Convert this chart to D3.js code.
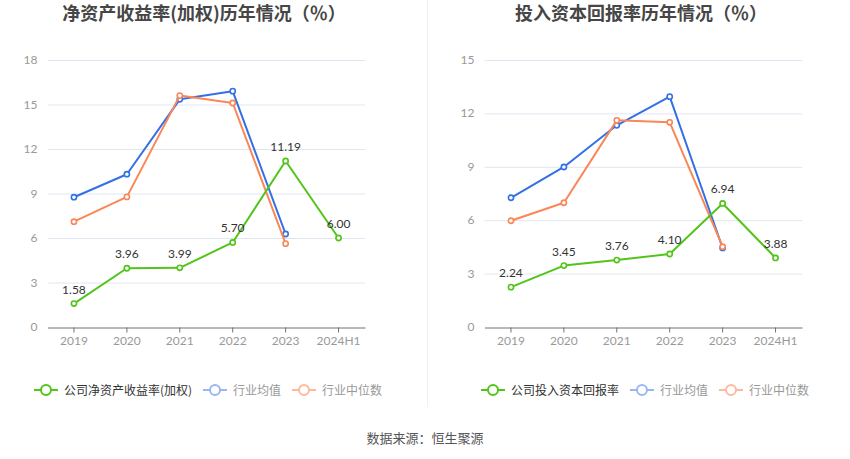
<!DOCTYPE html>
<html>
<head>
<meta charset="utf-8">
<script src="https://cdn.jsdelivr.net/npm/d3@7"></script>
<style>
  body { margin: 0; background: #fff; font-family: "Noto Sans CJK SC", "Noto Sans", sans-serif; }
  svg { display: block; }
</style>
</head>
<body>
<div id="chart"></div>
<script>
// categories and values
const years = ["2019", "2020", "2021", "2022", "2023", "2024H1"];

const roeCompany = [1.58, 3.96, 3.99, 5.70, 11.19, 6.00];
const roeIndustryAvg = [8.75, 10.3, 15.35, 15.9, 6.27, null];
const roeIndustryMedian = [7.1, 8.77, 15.6, 15.1, 5.62, null];
const roeTicks = [0, 3, 6, 9, 12, 15, 18];

const roicCompany = [2.24, 3.45, 3.76, 4.10, 6.94, 3.88];
const roicIndustryAvg = [7.26, 8.99, 11.33, 12.94, 4.44, null];
const roicIndustryMedian = [5.97, 6.98, 11.61, 11.5, 4.51, null];
const roicTicks = [0, 3, 6, 9, 12, 15];

const GREEN = "#52c41a", BLUE = "#3370e6", ORANGE = "#fb8656";
const BLUE_L = "#9ab7f2", ORANGE_L = "#fcbba0";

const W = 850, H = 459;
const svg = d3.select("#chart").append("svg")
  .attr("width", W).attr("height", H)
  .attr("viewBox", `0 0 ${W} ${H}`);

// divider between the two panels
svg.append("line")
  .attr("x1", 427.5).attr("x2", 427.5).attr("y1", 0).attr("y2", 407)
  .attr("stroke", "#f0f0f0").attr("stroke-width", 1);

function drawPanel(opts) {
  const { left, right, title, titleX, ticks, company, avg, median, legendItems } = opts;
  const top = 60, bottom = 327;

  const g = svg.append("g");

  g.append("text")
    .attr("x", titleX).attr("y", 20)
    .attr("text-anchor", "middle")
    .attr("font-size", 18).attr("font-weight", "bold")
    .attr("fill", "#464646")
    .text(title);

  const x = d3.scaleBand().domain(years).range([left, right]);
  const y = d3.scaleLinear().domain([0, d3.max(ticks)]).range([bottom, top]);
  const cx = d => x(d) + x.bandwidth() / 2;

  // grid
  g.selectAll(".grid").data(ticks.filter(t => t > 0)).join("line")
    .attr("x1", left).attr("x2", right)
    .attr("y1", d => y(d) + 0.5).attr("y2", d => y(d) + 0.5)
    .attr("stroke", "#e0e6f1");

  // y tick labels
  g.selectAll(".yl").data(ticks).join("text")
    .attr("x", left - 10).attr("y", d => y(d) + 4)
    .attr("text-anchor", "end")
    .attr("font-size", 12).attr("fill", "#999")
    .attr("font-family", "Lato, 'Noto Sans', sans-serif")
    .text(d => d);

  // x axis
  const xAxis = g.append("g")
    .attr("transform", `translate(0,${bottom + 0.5})`)
    .call(d3.axisBottom(x).tickSize(5).tickPadding(4).tickSizeOuter(0));
  xAxis.select(".domain").attr("stroke", "#6e7079");
  xAxis.selectAll(".tick line").attr("stroke", "#6e7079");
  xAxis.selectAll(".tick text")
    .attr("font-size", 12).attr("fill", "#999")
    .attr("font-family", "Lato, 'Noto Sans', sans-serif");

  const line = d3.line()
    .defined(d => d != null)
    .x((d, i) => cx(years[i]))
    .y(d => y(d));

  function series(vals, color) {
    g.append("path").datum(vals)
      .attr("d", line).attr("fill", "none")
      .attr("stroke", color).attr("stroke-width", 2)
      .attr("stroke-linejoin", "round");
    g.selectAll(null).data(vals.map((v, i) => ({ v, i })).filter(d => d.v != null)).join("circle")
      .attr("cx", d => cx(years[d.i])).attr("cy", d => y(d.v))
      .attr("r", 2.6).attr("fill", "#fff")
      .attr("stroke", color).attr("stroke-width", 1.6);
  }
  series(avg, BLUE);
  series(median, ORANGE);
  series(company, GREEN);

  g.selectAll(".lbl").data(company).join("text")
    .attr("x", (d, i) => cx(years[i])).attr("y", d => y(d) - 10)
    .attr("text-anchor", "middle")
    .attr("font-size", 12).attr("fill", "#333")
    .attr("font-family", "Lato, 'Noto Sans', sans-serif")
    .text(d => d.toFixed(2));

  // legend
  legendItems.forEach(it => {
    const lg = g.append("g").attr("transform", `translate(${it.x},390)`);
    lg.append("line").attr("x1", 0).attr("x2", 24).attr("y1", 0).attr("y2", 0)
      .attr("stroke", it.color).attr("stroke-width", 2);
    lg.append("circle").attr("cx", 12).attr("cy", 0).attr("r", 5)
      .attr("fill", "#fff").attr("stroke", it.color).attr("stroke-width", 2);
    lg.append("text").attr("x", 30).attr("y", 4.5)
      .attr("font-size", 12).attr("fill", it.textColor)
      .text(it.label);
  });
}

drawPanel({
  left: 47.5, right: 365, titleX: 204,
  title: "净资产收益率(加权)历年情况（％）",
  ticks: roeTicks, company: roeCompany, avg: roeIndustryAvg, median: roeIndustryMedian,
  legendItems: [
    { x: 34, color: GREEN, textColor: "#333", label: "公司净资产收益率(加权)" },
    { x: 203, color: BLUE_L, textColor: "#999", label: "行业均值" },
    { x: 292, color: ORANGE_L, textColor: "#999", label: "行业中位数" }
  ]
});

drawPanel({
  left: 484.5, right: 802, titleX: 641,
  title: "投入资本回报率历年情况（％）",
  ticks: roicTicks, company: roicCompany, avg: roicIndustryAvg, median: roicIndustryMedian,
  legendItems: [
    { x: 481, color: GREEN, textColor: "#333", label: "公司投入资本回报率" },
    { x: 630, color: BLUE_L, textColor: "#999", label: "行业均值" },
    { x: 719, color: ORANGE_L, textColor: "#999", label: "行业中位数" }
  ]
});

svg.append("text")
  .attr("x", 425).attr("y", 443)
  .attr("text-anchor", "middle")
  .attr("font-size", 13).attr("fill", "#555")
  .text("数据来源：恒生聚源");
</script>
</body>
</html>
